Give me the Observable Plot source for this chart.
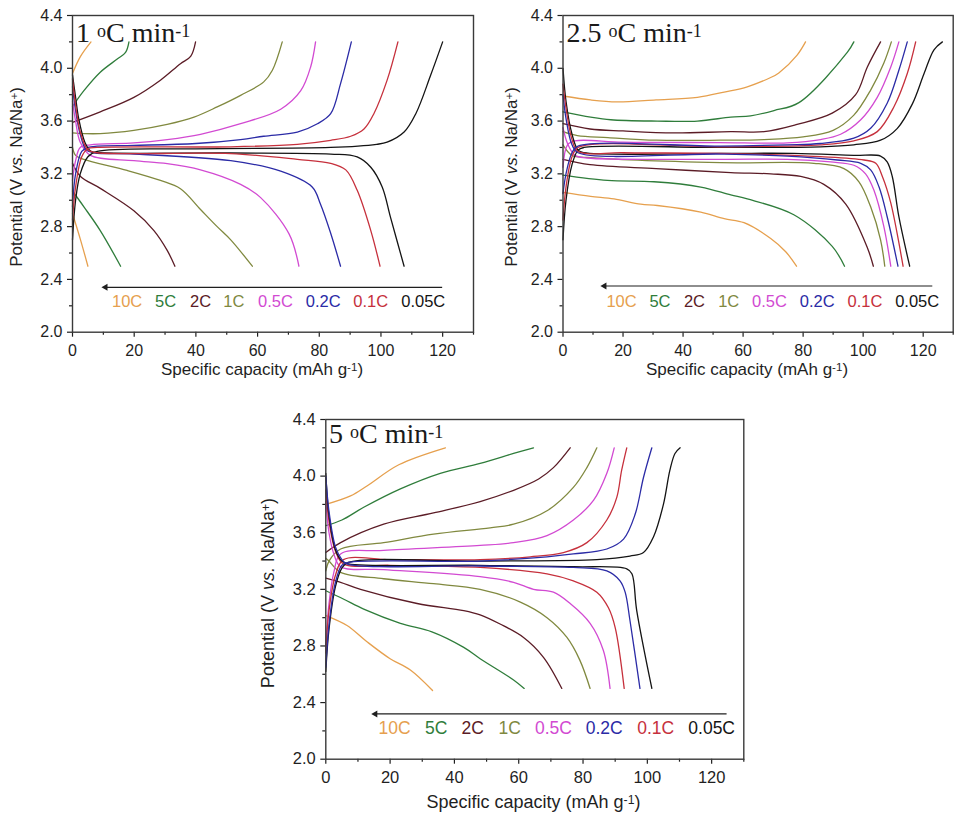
<!DOCTYPE html>
<html><head><meta charset="utf-8">
<script src="https://cdn.jsdelivr.net/npm/d3@7"></script>
<script src="https://cdn.jsdelivr.net/npm/@observablehq/plot@0.6"></script>
<style>
html,body{margin:0;padding:0;background:#fff;}
#wrap{position:relative;width:957px;height:817px;overflow:hidden;}
#wrap svg{position:absolute;display:block;background:transparent;overflow:visible;}
</style></head><body><div id="wrap"></div>
<script>
const rates = ["10C","5C","2C","1C","0.5C","0.2C","0.1C","0.05C"];
const rateColors = ["#e6a04e","#2f7d3b","#5b1c26","#80893f","#d24ad2","#2b2ba6","#c6303c","#141414"];
const xMajor = [0,20,40,60,80,100,120];
const xMinor = [10,30,50,70,90,110,130];
const yMajor = [2.0,2.4,2.8,3.2,3.6,4.0,4.4];
const yMinor = [2.2,2.6,3.0,3.4,3.8,4.2];

// Panel 1: 1 C/min, curves in the order of `rates`
const p1Charge = [
 [[0,3.96],[2.6,4.09],[6,4.2]],
 [[0,3.71],[3.7,3.83],[9,3.97],[14.5,4.07],[17.2,4.12],[18.3,4.2]],
 [[0,3.59],[9,3.67],[19.9,3.78],[28.5,3.91],[35,4.035],[38.3,4.09],[39.9,4.2]],
 [[0,3.51],[3.7,3.505],[9,3.505],[19.9,3.53],[30.7,3.575],[39.4,3.63],[46.9,3.707],[54.5,3.795],[62,3.897],[64.8,3.985],[68,4.2]],
 [[0,3.15],[1,3.3],[2.5,3.4],[5.8,3.42],[19.9,3.434],[30.7,3.46],[41.5,3.5],[54.5,3.58],[67.5,3.69],[74,3.83],[77.2,4.01],[78.8,4.2]],
 [[0,2.95],[1,3.2],[3,3.37],[5,3.4],[8,3.41],[19.9,3.416],[40,3.43],[54.5,3.46],[62,3.485],[72.9,3.517],[79.4,3.58],[83.7,3.656],[86.9,3.884],[90.4,4.2]],
 [[0,2.85],[1,3.1],[3,3.33],[5,3.39],[8,3.4],[51.3,3.405],[72.9,3.424],[83.7,3.454],[90.2,3.485],[94.5,3.54],[97.7,3.656],[102,3.91],[105.5,4.2]],
 [[0,2.7],[1,3.0],[2.5,3.2],[5,3.33],[8,3.37],[40,3.39],[83.7,3.4],[98.6,3.424],[102,3.44],[107.5,3.517],[111.3,3.656],[116.1,3.947],[120,4.2]]
];
const p1Discharge = [
 [[0,2.9],[2.6,2.7],[5,2.5]],
 [[0,3.07],[3.7,2.95],[9,2.77],[15.6,2.5]],
 [[0,3.28],[2.6,3.18],[9,3.09],[19.9,2.92],[26.4,2.77],[30.7,2.62],[33.2,2.5]],
 [[0,3.4],[1,3.34],[3.7,3.31],[17.7,3.226],[28.5,3.15],[35,3.087],[41.5,2.93],[46.9,2.8],[51.3,2.7],[58.3,2.5]],
 [[0,3.75],[1,3.6],[2.5,3.44],[5.8,3.34],[19.9,3.3],[30.7,3.277],[41.5,3.23],[54.5,3.12],[61,3.02],[70.2,2.745],[73.4,2.5]],
 [[0,3.86],[1,3.68],[2.5,3.5],[4.5,3.38],[7,3.36],[19.9,3.35],[51.3,3.3],[67.5,3.22],[77.7,3.1],[80.4,2.97],[83.7,2.75],[86.9,2.5]],
 [[0,3.92],[1,3.72],[2.5,3.52],[5,3.38],[8,3.36],[51.3,3.353],[72.9,3.31],[83.7,3.28],[88.6,3.23],[92.3,3.075],[96.7,2.77],[99.7,2.5]],
 [[0,3.95],[1,3.78],[2,3.62],[4,3.44],[6,3.37],[9,3.36],[51,3.358],[83.7,3.35],[92.3,3.328],[96.7,3.25],[100.4,3.1],[103.1,2.87],[107.5,2.5]]
];

// Panel 2: 2.5 C/min
const p2Charge = [
 [[0,3.79],[9.2,3.76],[18,3.745],[31,3.76],[44.8,3.78],[53.7,3.82],[61.4,3.86],[69.2,3.93],[71.9,3.965],[78,4.1],[80.8,4.2]],
 [[0,3.67],[9.2,3.63],[15.9,3.61],[31.4,3.6],[44.8,3.6],[55.9,3.63],[62.5,3.64],[70.3,3.68],[78.6,3.74],[94.7,4.12],[96.9,4.2]],
 [[0,3.58],[9,3.54],[20,3.525],[37,3.51],[55.9,3.52],[67,3.52],[78,3.575],[89.7,3.66],[97.5,3.8],[101.4,4.01],[105.8,4.2]],
 [[0,3.52],[4.8,3.49],[15,3.475],[31,3.455],[52.5,3.455],[67,3.46],[80,3.48],[90,3.53],[96.9,3.645],[102.5,3.835],[106.9,4.04],[109.4,4.2]],
 [[0,3.25],[1.5,3.42],[4,3.45],[20,3.44],[52,3.437],[74.7,3.435],[85.8,3.46],[92.5,3.5],[99.2,3.61],[104.7,3.78],[109.2,4.01],[111.9,4.2]],
 [[0,3.05],[1,3.2],[3,3.36],[5,3.41],[52.5,3.41],[74.7,3.42],[85.8,3.43],[96.9,3.47],[102.5,3.545],[108,3.735],[111.9,3.985],[114.7,4.2]],
 [[0,2.85],[1,3.1],[3,3.33],[5,3.4],[52.5,3.405],[85.8,3.42],[96.9,3.45],[104.7,3.52],[110.3,3.71],[114.7,3.96],[117.5,4.2]],
 [[0,2.7],[1,3.0],[3,3.27],[5,3.38],[7,3.4],[52.5,3.4],[85.8,3.405],[96.9,3.42],[105.8,3.455],[111.4,3.545],[116.4,3.73],[120.3,3.96],[123.6,4.14],[126.4,4.2]]
];
const p2Discharge = [
 [[0,3.06],[9.2,3.03],[17,3.01],[25.9,2.97],[31.4,2.96],[45.9,2.91],[53.7,2.86],[60.3,2.83],[69.2,2.71],[74.2,2.61],[77.8,2.5]],
 [[0,3.19],[14.8,3.15],[30.3,3.14],[45.9,3.1],[55.9,3.04],[61.4,3.01],[76.9,2.89],[89.7,2.65],[93.8,2.5]],
 [[0,3.31],[9,3.27],[31,3.24],[55.9,3.21],[69.2,3.2],[79.2,3.18],[86.9,3.12],[94.2,2.97],[101.4,2.64],[103.4,2.5]],
 [[0,3.42],[3,3.34],[8,3.325],[52.5,3.285],[83.6,3.28],[93.6,3.24],[98.6,3.14],[102.5,2.95],[105.8,2.7],[107.2,2.5]],
 [[0,3.55],[1.5,3.43],[4,3.34],[8,3.32],[52.5,3.31],[74.7,3.31],[89.2,3.29],[96.9,3.265],[100.8,3.2],[103.6,3.075],[106.9,2.8],[109.2,2.5]],
 [[0,3.8],[1,3.62],[3,3.42],[5,3.36],[52.5,3.35],[74.7,3.335],[91.4,3.305],[99.2,3.28],[102.5,3.23],[105.3,3.1],[108,2.875],[111.6,2.5]],
 [[0,3.88],[1,3.7],[3,3.46],[5,3.37],[20,3.36],[52.5,3.355],[85.8,3.33],[100.3,3.305],[104.2,3.28],[106.4,3.18],[109.2,2.98],[113.3,2.5]],
 [[0,4.0],[1,3.75],[3,3.5],[5,3.38],[7,3.36],[52.5,3.355],[76.9,3.355],[96.9,3.34],[105.8,3.335],[108,3.29],[109.7,3.18],[111.9,2.875],[115.5,2.5]]
];

// Panel 3: 5 C/min
const p3Charge = [
 [[0,3.8],[7.7,3.86],[12.8,3.93],[22.7,4.08],[37.2,4.2]],
 [[0,3.65],[5,3.69],[11.8,3.78],[23.2,3.91],[35.6,4.02],[48,4.09],[58.4,4.16],[64.6,4.2]],
 [[0,3.46],[4.6,3.53],[18,3.66],[33.5,3.74],[48,3.82],[58.4,3.9],[66.2,3.98],[70.8,4.06],[76,4.2]],
 [[0,3.33],[1,3.4],[4.6,3.485],[18,3.53],[33.5,3.59],[51.1,3.635],[58.4,3.66],[68.8,3.755],[77,3.92],[81.2,4.06],[84.3,4.2]],
 [[0,2.8],[1,3.1],[2.5,3.32],[4.6,3.45],[18,3.475],[48,3.51],[58.4,3.53],[68.8,3.58],[77,3.69],[83.3,3.83],[87.4,4.02],[89.7,4.2]],
 [[0,2.65],[1,2.95],[3,3.25],[5,3.37],[7,3.39],[48,3.4],[68.8,3.43],[77,3.45],[87.4,3.485],[92.6,3.555],[96.2,3.73],[98.8,3.99],[101.4,4.2]],
 [[0,2.75],[1,3.05],[3,3.3],[5.5,3.41],[20,3.41],[48,3.41],[63.6,3.43],[73.9,3.46],[81.2,3.53],[87.4,3.69],[90.5,3.85],[92,4.04],[93.6,4.2]],
 [[0,2.62],[1,2.92],[3,3.22],[5,3.35],[7,3.39],[48,3.4],[84.3,3.41],[94.6,3.435],[98.8,3.46],[101.9,3.57],[105,3.8],[107,4.04],[108.6,4.16],[110.2,4.2]]
];
const p3Discharge = [
 [[0,3.015],[6.6,2.945],[12.8,2.83],[20,2.71],[26.3,2.63],[33.2,2.485]],
 [[0,3.19],[5.6,3.13],[11.8,3.06],[23.2,2.96],[33,2.9],[42.9,2.79],[48,2.71],[58.4,2.56],[61.7,2.5]],
 [[0,3.28],[4.6,3.25],[10.8,3.2],[28.4,3.1],[42.9,3.05],[48,3.02],[54.2,2.955],[61.5,2.86],[67.7,2.72],[73.4,2.5]],
 [[0,3.42],[1,3.4],[4.6,3.32],[18,3.275],[33.5,3.24],[48,3.2],[60.5,3.11],[68.8,3.0],[75,2.86],[79,2.7],[82.2,2.5]],
 [[0,3.82],[1,3.6],[2.5,3.45],[4.6,3.36],[18,3.34],[48,3.29],[58.4,3.25],[64.6,3.2],[70.8,3.18],[76,3.1],[82.2,2.96],[86.3,2.77],[88.4,2.5]],
 [[0,4.0],[1,3.75],[3,3.5],[5,3.41],[6.5,3.38],[48,3.365],[77,3.355],[87.4,3.33],[91.5,3.26],[93.1,3.18],[94.6,2.98],[97.7,2.5]],
 [[0,3.9],[1,3.68],[3,3.47],[5.5,3.38],[20,3.37],[48,3.355],[68.8,3.31],[77,3.26],[84.3,3.18],[87.9,3.07],[90,2.93],[92.8,2.5]],
 [[0,4.02],[1,3.72],[3,3.48],[5,3.4],[7,3.38],[48,3.37],[77,3.36],[93.6,3.345],[95.2,3.31],[96.7,3.05],[101.4,2.5]]
];

const p1LabelX = [17.7,30.2,41.5,52.3,65.8,81.3,96.7,113.7];
const p2LabelX = [19.5,32.3,43.8,55.2,68.8,84.7,100.6,118];
const p3LabelX = [21.4,34.3,45.7,57.2,70.8,86.6,102.6,120];
const ink = "#1f1f1f";

function panel(o){
  const marks = [];
  marks.push(Plot.axisX({ticks:xMajor,tickSize:5,tickPadding:7,fontSize:o.tickFont,stroke:ink,color:ink,label:null,tickFormat:d=>String(d),strokeWidth:1.2}));
  marks.push(Plot.axisX({ticks:xMinor,tickSize:3,tickFormat:()=>"",stroke:ink,label:null,strokeWidth:1.2}));
  marks.push(Plot.axisY({ticks:yMajor,tickSize:5,tickPadding:5,fontSize:o.tickFont,stroke:ink,color:ink,label:null,tickFormat:d=>d.toFixed(1),strokeWidth:1.2}));
  marks.push(Plot.axisY({ticks:yMinor,tickSize:3,tickFormat:()=>"",stroke:ink,label:null,strokeWidth:1.2}));
  o.order.forEach(i=>{
    [o.charge[i],o.discharge[i]].forEach(c=>{
      marks.push(Plot.line(c,{x:d=>d[0],y:d=>d[1],stroke:rateColors[i],strokeWidth:1.3,curve:"catmull-rom"}));
    });
  });
  marks.push(Plot.ruleY([o.arrowY],{x1:o.arrowX[0],x2:o.arrowX[1],stroke:ink,strokeWidth:1.2}));
  marks.push(Plot.dot([[o.arrowX[0],o.arrowY]],{x:d=>d[0],y:d=>d[1],symbol:"triangle",r:2.6,rotate:-90,fill:ink,stroke:"none"}));
  marks.push(Plot.text(rates,{x:(d,i)=>o.labelX[i],y:()=>o.labelY,text:d=>d,fill:(d,i)=>rateColors[i],fontSize:o.rateFont,fontFamily:"Liberation Sans, Arial, sans-serif",textAnchor:"middle"}));
  marks.push(Plot.frame({stroke:"#3a3a3a",strokeWidth:1.4}));
  const svg = Plot.plot({
    width:o.w,height:o.h,marginLeft:o.ml,marginRight:o.mr,marginTop:o.mt,marginBottom:o.mb,
    style:{fontFamily:"Liberation Sans, Arial, sans-serif",background:"transparent",overflow:"visible"},
    x:{domain:[0,130]},y:{domain:[2.0,4.4]},
    marks
  });
  svg.style.left=o.left+"px";svg.style.top=o.top+"px";
  const s=d3.select(svg);
  const font="Liberation Sans, Arial, sans-serif";
  const t=s.append("text").attr("x",o.title[0]).attr("y",o.title[1]).attr("text-anchor","start").attr("font-family","Liberation Serif, Times New Roman, serif").attr("font-size",28).attr("fill","#1a1a1a");
  t.append("tspan").text(o.titleNum+" ");
  t.append("tspan").attr("font-size",18).attr("baseline-shift","30%").text("o");
  t.append("tspan").text("C min");
  t.append("tspan").attr("font-size",18).attr("baseline-shift","30%").text("-1");
  const xl=s.append("text").attr("x",o.xLabel[0]).attr("y",o.xLabel[1]).attr("text-anchor","middle").attr("font-family",font).attr("font-size",o.labelFont).attr("fill",ink);
  xl.append("tspan").text("Specific capacity (mAh g");
  xl.append("tspan").attr("font-size",o.labelFont*0.68).attr("baseline-shift","35%").text("-1");
  xl.append("tspan").text(")");
  const yl=s.append("text").attr("transform",`translate(${o.yLabel[0]},${o.yLabel[1]}) rotate(-90)`).attr("text-anchor","middle").attr("font-family",font).attr("font-size",o.labelFont).attr("fill",ink);
  yl.append("tspan").text("Potential (V ");
  yl.append("tspan").attr("font-style","italic").text("vs.");
  yl.append("tspan").text(" Na/Na");
  yl.append("tspan").attr("font-size",o.labelFont*0.68).attr("baseline-shift","35%").text("+");
  yl.append("tspan").text(")");
  document.getElementById("wrap").appendChild(svg);
}

panel({left:0,top:0,w:478,h:385,ml:72,mr:5,mt:15,mb:53.3,charge:p1Charge,discharge:p1Discharge,order:[0,1,2,3,4,5,7,6],
  tickFont:16,rateFont:16.5,labelFont:17,
  labelX:p1LabelX,labelY:2.23,arrowX:[10.7,120],arrowY:2.34,titleNum:"1",title:[76,41.5],xLabel:[262,375],yLabel:[22,177]});
panel({left:490,top:0,w:467,h:385,ml:72.5,mr:4.3,mt:15,mb:53.3,charge:p2Charge,discharge:p2Discharge,order:[0,1,2,3,4,7,6,5],
  tickFont:16,rateFont:16.5,labelFont:17,
  labelX:p2LabelX,labelY:2.23,arrowX:[13.8,123.2],arrowY:2.35,titleNum:"2.5",title:[76.5,41.5],xLabel:[257,375],yLabel:[27,177]});
panel({left:250,top:405,w:500,h:412,ml:75.3,mr:6.7,mt:14,mb:58.3,charge:p3Charge,discharge:p3Discharge,order:[0,1,2,3,4,6,7,5],
  tickFont:16.5,rateFont:17.5,labelFont:18,
  labelX:p3LabelX,labelY:2.215,arrowX:[15.4,124.8],arrowY:2.32,titleNum:"5",title:[79,38],xLabel:[283.5,403],yLabel:[24,188]});
</script></body></html>
